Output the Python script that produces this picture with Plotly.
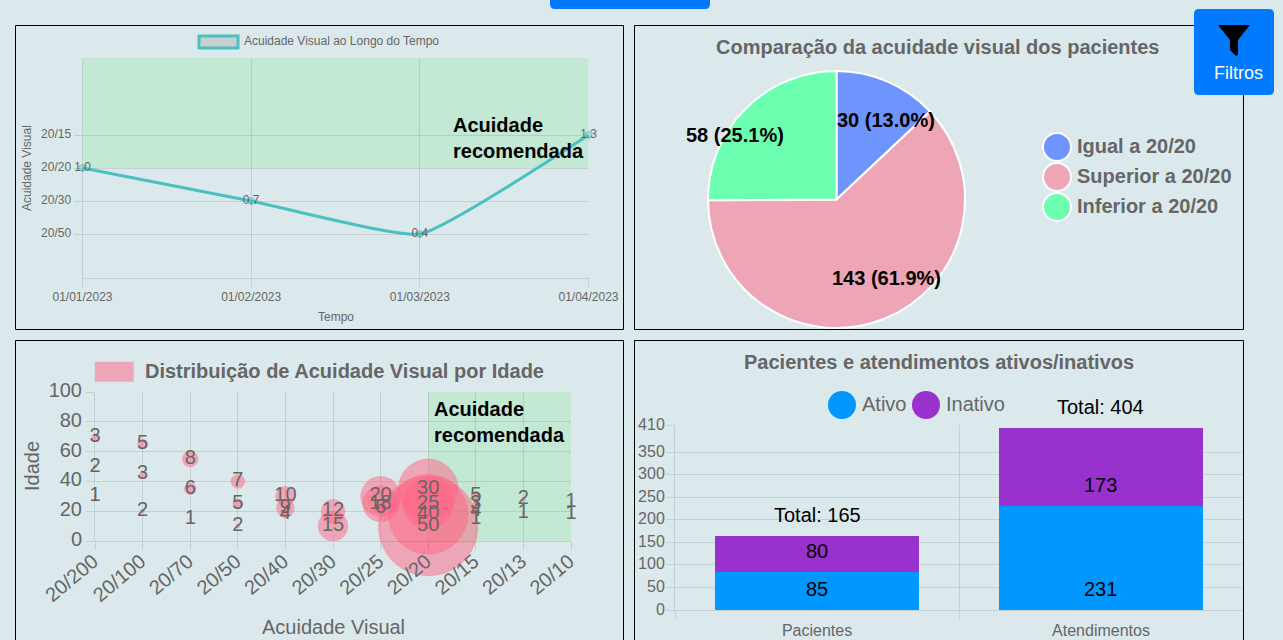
import plotly.graph_objects as go

W, H = 1283, 640
BG = "#dbe9ec"
GRAY = "#666666"
GRID = "rgba(0,0,0,0.1)"
GREEN_ZONE = "rgba(139,236,159,0.3)"
PINK = "rgba(255,99,132,0.5)"
FONT = "Liberation Sans, Arial, sans-serif"

# --- Line chart data
line_dates = ["01/01/2023", "01/02/2023", "01/03/2023", "01/04/2023"]
line_values = [1.0, 0.7, 0.4, 1.3]
line_tick_vals = [0.4, 0.7, 1.0, 1.3]
line_tick_text = ["20/50", "20/30", "20/20", "20/15"]

# --- Pie data
pie_labels = ["Igual a 20/20", "Superior a 20/20", "Inferior a 20/20"]
pie_values = [30, 143, 58]
pie_colors = ["#6e94ff", "#eea6b6", "#6cffb0"]

# --- Bubble data
acuity_cats = ["20/200", "20/100", "20/70", "20/50", "20/40", "20/30", "20/25", "20/20", "20/15", "20/13", "20/10"]
bubble_x = ["20/200", "20/200", "20/200", "20/100", "20/100", "20/100", "20/70", "20/70", "20/70",
            "20/50", "20/50", "20/50", "20/40", "20/40", "20/40", "20/30", "20/30",
            "20/25", "20/25", "20/25", "20/20", "20/20", "20/20", "20/20",
            "20/15", "20/15", "20/15", "20/15", "20/13", "20/13", "20/10", "20/10"]
bubble_age = [70, 50, 30, 65, 45, 20, 55, 35, 15,
              40, 25, 10, 30, 22, 18, 20, 10,
              30, 25, 22, 35, 25, 18, 10,
              30, 25, 20, 15, 28, 19, 26, 18]
bubble_r = [3, 2, 1, 5, 3, 2, 8, 6, 1,
            7, 5, 2, 10, 9, 4, 12, 15,
            20, 18, 6, 30, 25, 40, 50,
            5, 3, 4, 1, 2, 1, 1, 1]

# --- Bar data
bar_cats = ["Pacientes", "Atendimentos"]
bar_active = [85, 231]
bar_inactive = [80, 173]
bar_tick_vals = [0, 50, 100, 150, 200, 250, 300, 350, 410]
bar_colors = ["#0098ff", "#9932cc"]


def px(x):
    return x / W


def py(y):
    return 1 - y / H


def dom_x(a, b):
    return [px(a), px(b)]


def dom_y(top, bottom):
    return [py(bottom), py(top)]


def rect(x0, y0, x1, y1, **kw):
    return dict(type="rect", xref="paper", yref="paper", x0=px(x0), y0=py(y0), x1=px(x1), y1=py(y1), **kw)


def circle(cx, cy, r, color, line=None):
    return dict(type="circle", xref="paper", yref="paper",
                x0=px(cx - r), x1=px(cx + r), y0=py(cy - r), y1=py(cy + r),
                fillcolor=color, line=line or dict(width=0), layer="above")


def rounded(x0, y0, x1, y1, r, fill):
    p = (f"M {px(x0+r)} {py(y0)} L {px(x1-r)} {py(y0)} Q {px(x1)} {py(y0)} {px(x1)} {py(y0+r)} "
         f"L {px(x1)} {py(y1-r)} Q {px(x1)} {py(y1)} {px(x1-r)} {py(y1)} "
         f"L {px(x0+r)} {py(y1)} Q {px(x0)} {py(y1)} {px(x0)} {py(y1-r)} "
         f"L {px(x0)} {py(y0+r)} Q {px(x0)} {py(y0)} {px(x0+r)} {py(y0)} Z")
    return dict(type="path", xref="paper", yref="paper", path=p, fillcolor=fill, line=dict(width=0), layer="above")


def label(x, y, text, size=20, color=GRAY, bold=False, xanchor="center", **kw):
    if xanchor == "left":
        x -= 2
    return dict(xref="paper", yref="paper", x=px(x), y=py(y), text=f"<b>{text}</b>" if bold else text,
                showarrow=False, xanchor=xanchor, yanchor="middle",
                font=dict(family=FONT, size=size, color=color), **kw)


fig = go.Figure()

# Line chart
fig.add_trace(go.Scatter(
    x=line_dates, y=line_values, mode="lines+markers+text",
    line=dict(color="#4bc0c0", width=3, shape="spline", smoothing=0.4),
    marker=dict(size=7, color="rgba(75,192,192,0.35)", line=dict(color="rgba(75,192,192,0.6)", width=1)),
    text=[f"{v:.1f}" for v in line_values], textposition="middle center",
    textfont=dict(family=FONT, size=12, color=GRAY), cliponaxis=False,
    xaxis="x", yaxis="y", showlegend=False,
))

# Pie chart
fig.add_trace(go.Pie(
    labels=pie_labels, values=pie_values, sort=False, direction="clockwise", rotation=0,
    marker=dict(colors=pie_colors, line=dict(color="white", width=2)),
    textinfo="none", showlegend=False,
    domain=dict(x=dom_x(708, 965), y=dom_y(71, 328)),
))

# Bubble chart
fig.add_trace(go.Scatter(
    x=bubble_x, y=bubble_age, mode="markers+text",
    marker=dict(size=[2 * r for r in bubble_r], sizemode="diameter", sizeref=1, color=PINK, opacity=1,
                line=dict(color="rgba(255,99,132,0.15)", width=1)),
    text=[str(r) for r in bubble_r], textposition="middle center",
    textfont=dict(family=FONT, size=20, color=GRAY), cliponaxis=False,
    xaxis="x2", yaxis="y2", showlegend=False,
))

# Stacked bars
fig.add_trace(go.Bar(x=bar_cats, y=bar_active, marker=dict(color=bar_colors[0], line=dict(width=0)),
                     width=0.72, name="Ativo", xaxis="x3", yaxis="y3", showlegend=False))
fig.add_trace(go.Bar(x=bar_cats, y=bar_inactive, marker=dict(color=bar_colors[1], line=dict(width=0)),
                     width=0.72, name="Inativo", xaxis="x3", yaxis="y3", showlegend=False))

tickfont12 = dict(family=FONT, size=12, color=GRAY)
tickfont20 = dict(family=FONT, size=20, color=GRAY)
tickfont16 = dict(family=FONT, size=16, color=GRAY)
common = dict(showgrid=True, gridcolor=GRID, gridwidth=1, showline=True, linecolor=GRID, linewidth=1,
              ticks="outside", ticklen=8, tickwidth=1, tickcolor=GRID, zeroline=False, automargin=False)

fig.update_layout(
    width=W, height=H, autosize=False, margin=dict(l=0, r=0, t=0, b=0),
    paper_bgcolor=BG, plot_bgcolor="rgba(0,0,0,0)", barmode="stack", hovermode=False,
    font=dict(family=FONT, color=GRAY),
    xaxis=dict(domain=dom_x(82.5, 588.5), anchor="y", type="category", categoryorder="array",
               categoryarray=line_dates, range=[0, 3], tickfont=tickfont12, **common),
    yaxis=dict(domain=dom_y(58, 278), anchor="x", range=[0, 2], tickvals=line_tick_vals, ticktext=line_tick_text,
               tickfont=tickfont12, ticklabelshift=-1, **common),
    xaxis2=dict(domain=dom_x(95, 571), anchor="y2", type="category", categoryorder="array",
                categoryarray=acuity_cats, range=[0, 10], tickfont=tickfont20, tickangle=-40,
                ticklabelstandoff=-8, ticklabelshift=-2, **common),
    yaxis2=dict(domain=dom_y(392, 541), anchor="x2", range=[0, 100], tickvals=[0, 20, 40, 60, 80, 100],
                tickfont=tickfont20, ticklabelshift=-2, **common),
    xaxis3=dict(domain=dom_x(675, 1243), anchor="y3", type="category", categoryorder="array",
                categoryarray=bar_cats, range=[-0.5, 1.5], tickson="boundaries", tickfont=tickfont16,
                ticklabelstandoff=6, **common),
    yaxis3=dict(domain=dom_y(425, 610), anchor="x3", range=[0, 410], tickvals=bar_tick_vals,
                tickfont=tickfont16, ticklabelstandoff=-2, ticklabelshift=-1, **common),
)

shapes = [
    # panels
    rect(15.5, 25.5, 623.5, 329.5, line=dict(color="black", width=1), layer="below"),
    rect(634.5, 25.5, 1243.5, 329.5, line=dict(color="black", width=1), layer="below"),
    rect(15.5, 340.5, 623.5, 660, line=dict(color="black", width=1), layer="below"),
    rect(634.5, 340.5, 1243.5, 660, line=dict(color="black", width=1), layer="below"),
    # recommended zones
    dict(type="rect", xref="x", yref="y", x0=0, x1=3, y0=1, y1=2, fillcolor=GREEN_ZONE, line=dict(width=0), layer="below"),
    dict(type="rect", xref="x2", yref="y2", x0=7, x1=10, y0=0, y1=100, fillcolor=GREEN_ZONE, line=dict(width=0), layer="below"),
    # line legend swatch
    rect(199, 36, 238, 48, fillcolor="#c8cfd1", line=dict(color="#4bc0c0", width=3), layer="above"),
    # bubble legend swatch
    rect(94.5, 361.5, 134, 382, fillcolor=PINK, line=dict(color="#d5e0e4", width=1), layer="above"),
    # pie legend
    circle(1057, 147, 14, pie_colors[0], dict(color="white", width=2)),
    circle(1057, 177, 14, pie_colors[1], dict(color="white", width=2)),
    circle(1057, 207, 14, pie_colors[2], dict(color="white", width=2)),
    # bar legend
    circle(842, 405, 14, bar_colors[0]),
    circle(926, 405, 14, bar_colors[1]),
    # buttons
    rounded(550, -10, 710, 9, 5, "#007bff"),
    rounded(1194, 9, 1274, 95, 5, "#007bff"),
    dict(type="path", xref="paper", yref="paper", fillcolor="black", line=dict(width=0), layer="above",
         path=(f"M {px(1218)} {py(25)} L {px(1250)} {py(25)} L {px(1238)} {py(40)} L {px(1238)} {py(55)} "
               f"L {px(1236)} {py(56)} L {px(1230)} {py(50)} L {px(1230)} {py(40)} Z")),
]
fig.update_layout(shapes=shapes)

total = sum(pie_values)
pie_text = [f"{v} ({v / total * 100:.1f}%)" for v in pie_values]
label_rec = "Acuidade<br>recomendada"

annotations = [
    label(244, 41, "Acuidade Visual ao Longo do Tempo", size=12, xanchor="left"),
    label(27, 168, "Acuidade Visual", size=12, textangle=-90),
    label(336, 317, "Tempo", size=12),
    label(453, 137.5, label_rec, size=20, color="black", bold=True, xanchor="left", align="left"),
    label(938.5, 47, "Comparação da acuidade visual dos pacientes", bold=True),
    label(886, 120, pie_text[0], color="black", bold=True),
    label(886, 278, pie_text[1], color="black", bold=True),
    label(735, 135, pie_text[2], color="black", bold=True),
    label(1077, 146, pie_labels[0], bold=True, xanchor="left"),
    label(1077, 176, pie_labels[1], bold=True, xanchor="left"),
    label(1077, 206, pie_labels[2], bold=True, xanchor="left"),
    label(344, 371, "Distribuição de Acuidade Visual por Idade", bold=True),
    label(434, 421.5, label_rec, size=20, color="black", bold=True, xanchor="left", align="left"),
    label(32, 466, "Idade", textangle=-90),
    label(333, 627, "Acuidade Visual"),
    label(939, 362, "Pacientes e atendimentos ativos/inativos", bold=True, size=20),
    label(862, 404, "Ativo", xanchor="left"),
    label(946, 404, "Inativo", xanchor="left"),
    label(817, 515, f"Total: {bar_active[0] + bar_inactive[0]}", color="black"),
    label(1100, 407, f"Total: {bar_active[1] + bar_inactive[1]}", color="black"),
    label(817, 589, str(bar_active[0]), color="black"),
    label(1100, 589, str(bar_active[1]), color="black"),
    label(817, 551, str(bar_inactive[0]), color="black"),
    label(1100, 485, str(bar_inactive[1]), color="black"),
    label(1238, 73, "Filtros", size=18, color="white"),
]
fig.update_layout(annotations=annotations)

fig.write_html(
    "out.html",
    config=dict(displayModeBar=False),
    post_script="document.body.style.margin='0';document.body.style.overflow='hidden';",
)
